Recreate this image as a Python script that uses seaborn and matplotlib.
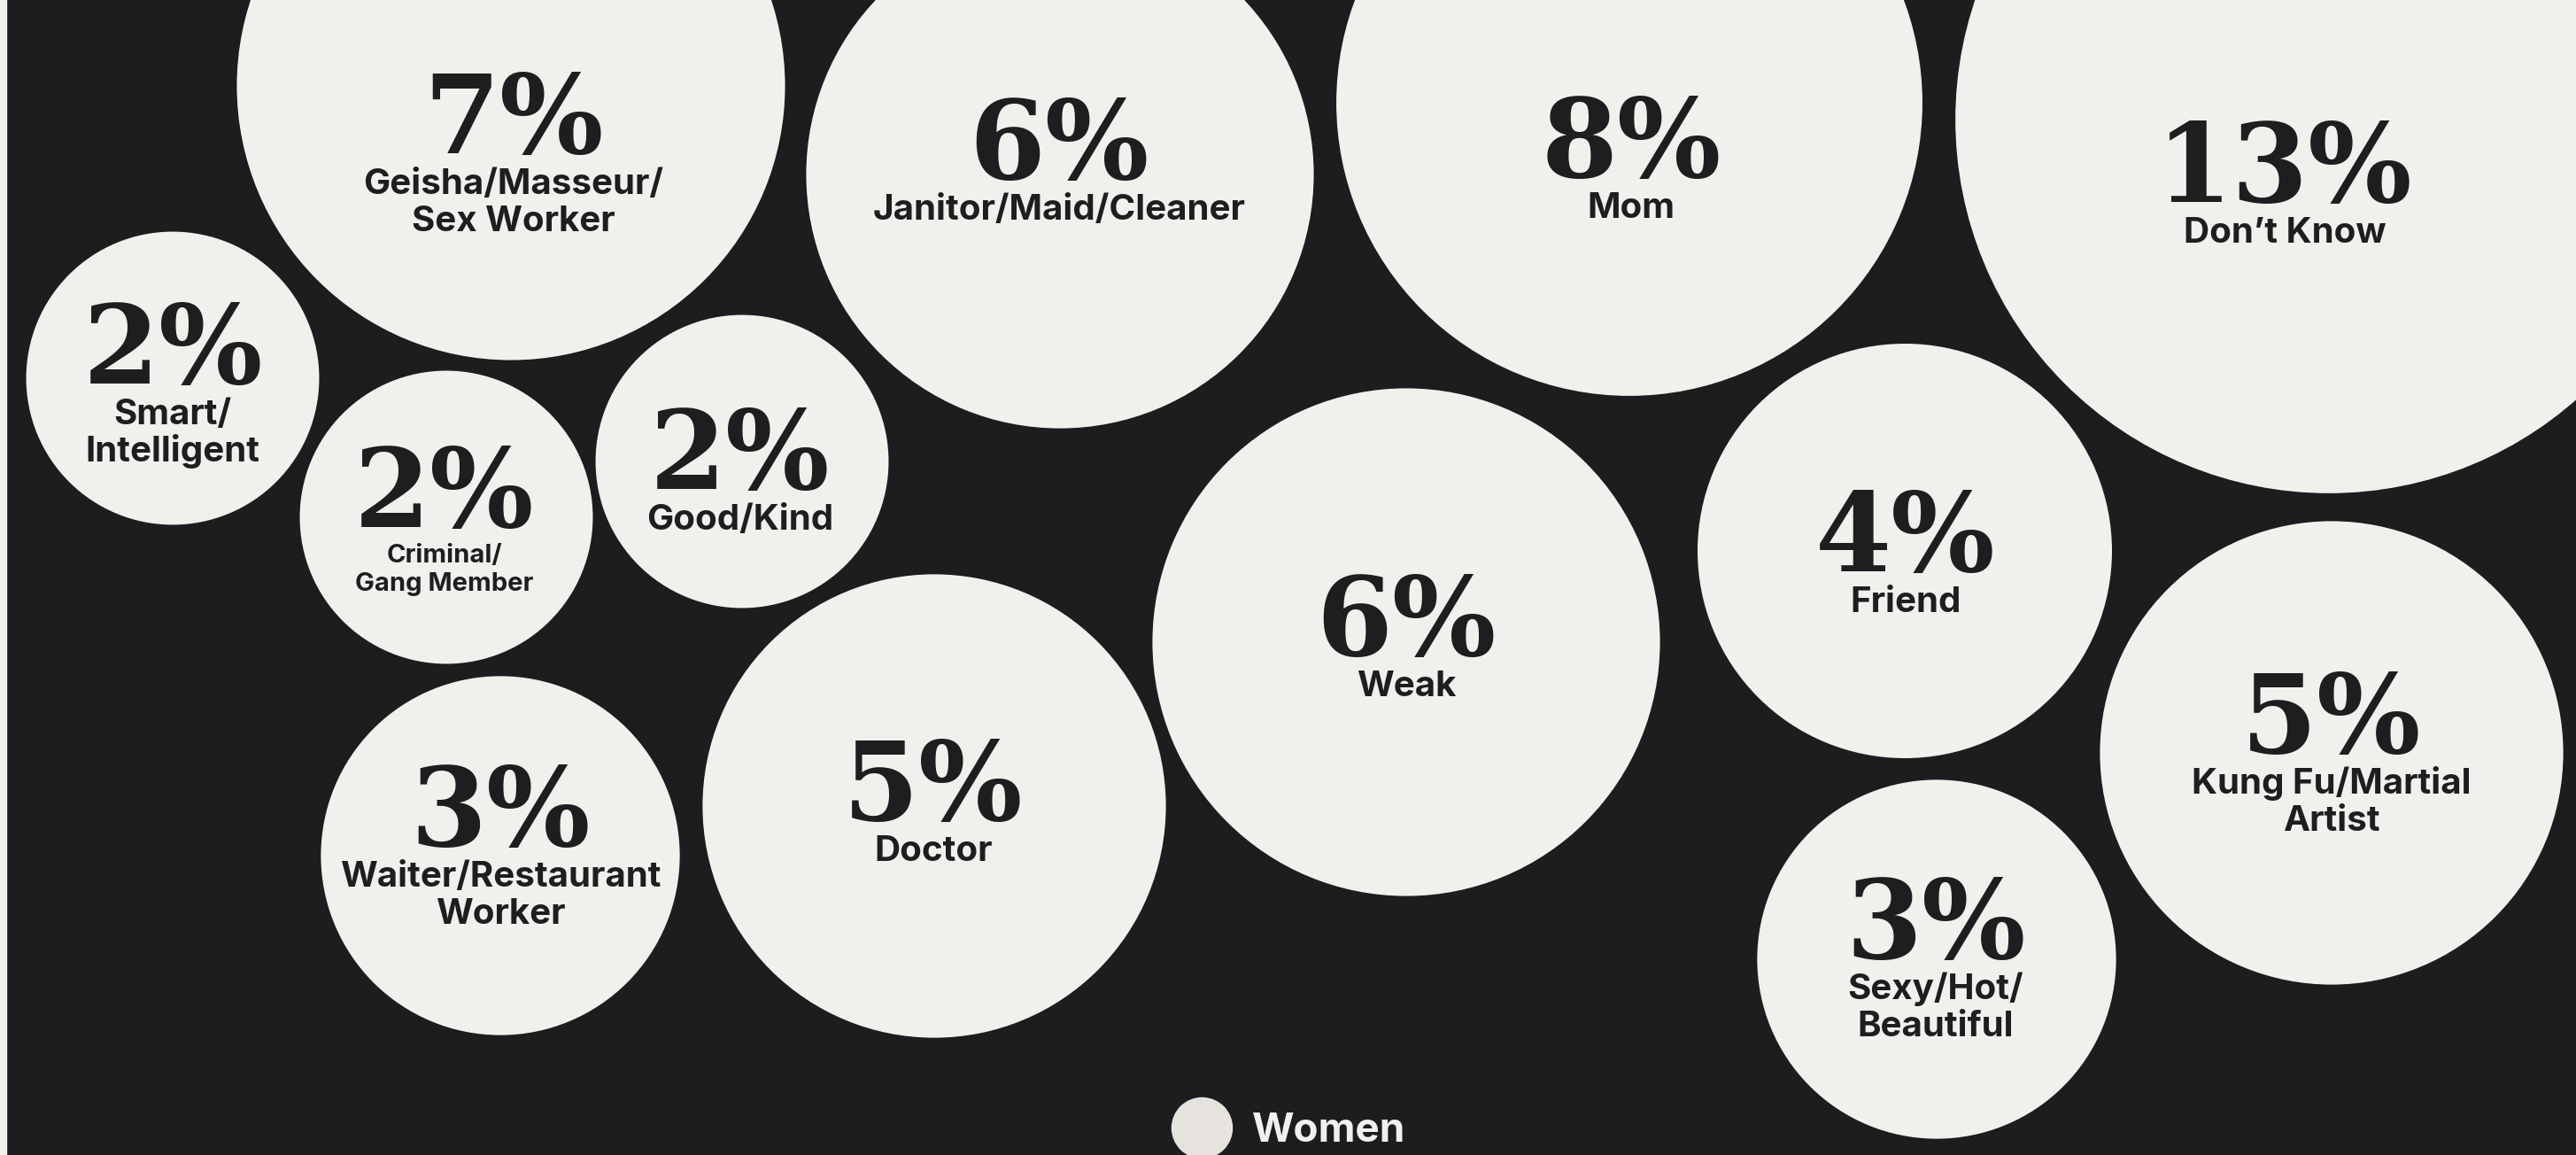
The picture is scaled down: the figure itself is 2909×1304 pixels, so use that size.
import matplotlib
matplotlib.use("Agg")
import matplotlib.pyplot as plt
from matplotlib.lines import Line2D
import seaborn as sns
import pandas as pd

# ---------------- data ----------------
categories = ["Geisha/Masseur/\nSex Worker", "Janitor/Maid/Cleaner", "Mom", "Don\u2019t Know",
              "Smart/\nIntelligent", "Criminal/\nGang Member", "Good/Kind", "Doctor",
              "Waiter/Restaurant\nWorker", "Weak", "Friend", "Kung Fu/Martial\nArtist",
              "Sexy/Hot/\nBeautiful"]
values = [7, 6, 8, 13, 2, 2, 2, 5, 3, 6, 4, 5, 3]
pct_labels = ["7%", "6%", "8%", "13%", "2%", "2%", "2%", "5%", "3%", "6%", "4%", "5%", "3%"]
series_name = "Women"

# ---------------- layout (bubble centres, pixel space) ----------------
x_pos = [577, 1197, 1840, 2630, 195, 504, 838, 1055, 565, 1588, 2151, 2633, 2187]
y_pos = [97, 197, 116, 135, 427, 584, 521, 910, 966, 725, 622, 850, 1083]
text_x = [580, 1196, 1842, 2580, 195, 502, 836, 1054, 565, 1588, 2152, 2633, 2186]
pct_baseline = [173, 202, 200, 228, 433, 595, 552, 926, 955, 740, 645, 850, 1082]
small_label = [False, False, False, False, False, True, False, False, False, False, False, False, False]

# ---------------- style ----------------
W, H, DPI = 2909, 1304, 100
BG = "#1c1d1f"
CIRCLE = "#f2f0ec"
INK = "#1d1e20"
PCT_FONT = ["DejaVu Serif"]
LBL_FONT = ["Inter", "DejaVu Sans"]

K = 117.0  # radius (px) per sqrt(percent)
pt_per_px = 72.0 / DPI
def area_pts(v):
    r = K * v ** 0.5
    return (2 * r * pt_per_px) ** 2

df = pd.DataFrame({"category": categories, "value": values, "x": x_pos, "y": y_pos})

fig = plt.figure(figsize=(W / DPI, H / DPI), dpi=DPI, facecolor=BG)
ax = fig.add_axes([0, 0, 1, 1])
ax.set_facecolor(BG)
ax.set_xlim(0, W)
ax.set_ylim(H, 0)
ax.axis("off")

# light strip at the left edge
ax.axvspan(0, 7, color=CIRCLE, zorder=0)

vmin, vmax = min(values), max(values)
sns.scatterplot(data=df, x="x", y="y", size="value",
                sizes=(area_pts(vmin), area_pts(vmax)), size_norm=(vmin, vmax),
                color=CIRCLE, linewidth=0, alpha=1, legend=False, ax=ax, zorder=2)
ax.set_xlim(0, W)
ax.set_ylim(H, 0)

for i, cat in enumerate(categories):
    ax.text(text_x[i], pct_baseline[i], pct_labels[i], ha="center", va="baseline",
            fontsize=89, fontweight="bold", family=PCT_FONT, color=INK, zorder=3)
    if small_label[i]:
        fs, off, pitch = 21, 40, 32
    else:
        fs, off, pitch = 29, 46, 42
    for j, line in enumerate(cat.split("\n")):
        ax.text(text_x[i], pct_baseline[i] + off + j * pitch, line, ha="center",
                va="baseline", fontsize=fs, fontweight="bold", family=LBL_FONT,
                color=INK, zorder=3)

# legend
handle = Line2D([], [], marker="o", ls="", markersize=50, markerfacecolor="#e6e3de",
                markeredgewidth=0)
leg = fig.legend([handle], [series_name], loc="center left",
                 bbox_to_anchor=(1334 / W, 1 - 1277 / H), frameon=False,
                 handlelength=1.0, handletextpad=0.75, borderpad=0, borderaxespad=0,
                 prop={"family": LBL_FONT, "weight": "bold", "size": 33})
for t in leg.get_texts():
    t.set_color(CIRCLE)

fig.savefig("out.png", dpi=DPI, facecolor=BG)
